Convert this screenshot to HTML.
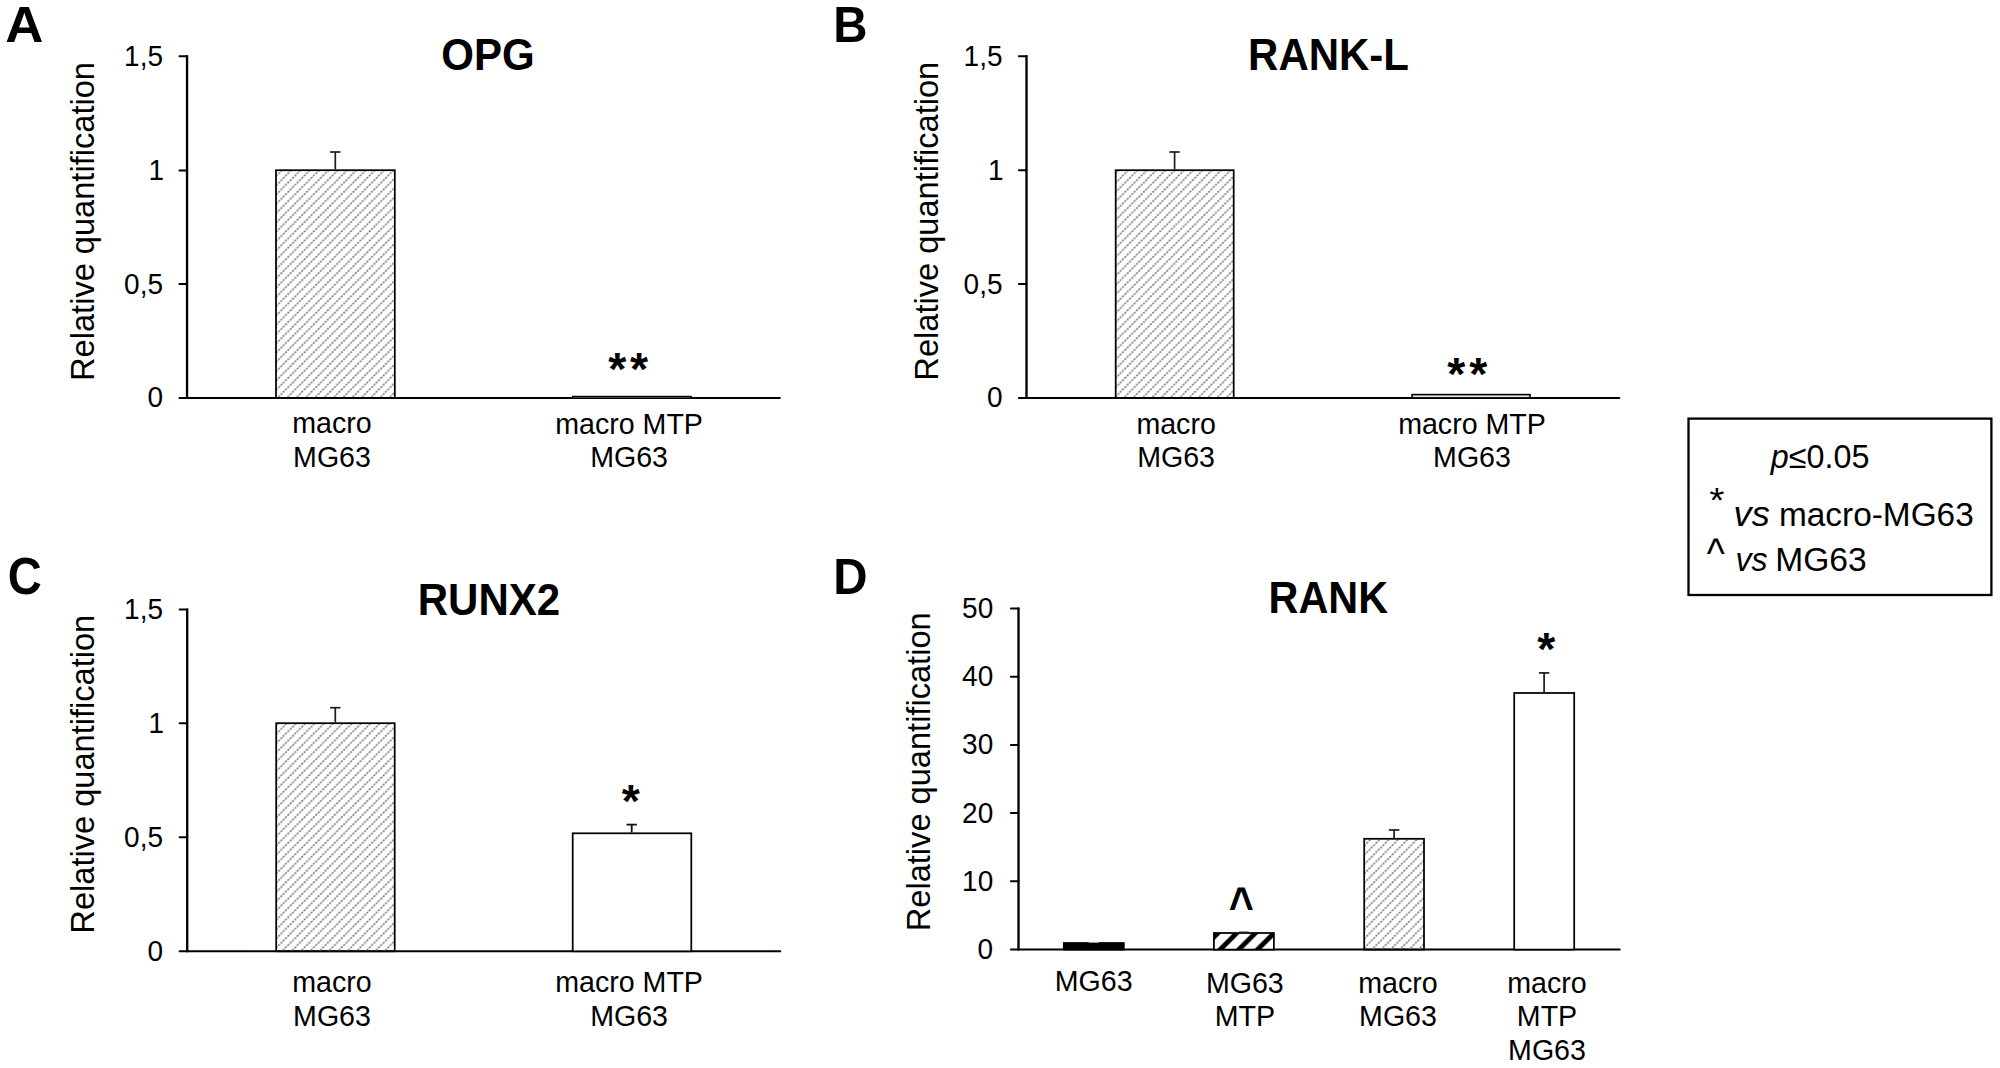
<!DOCTYPE html>
<html lang="en"><head><meta charset="utf-8"><title>Figure</title>
<style>html,body{margin:0;padding:0;background:#fff;}body{width:2000px;height:1068px;overflow:hidden;}svg{display:block;}text{font-family:"Liberation Sans", Arial, Helvetica, sans-serif;fill:#000;}</style></head><body>
<svg width="2000" height="1068" viewBox="0 0 2000 1068">
<defs>
<pattern id="hg" patternUnits="userSpaceOnUse" width="9.3" height="9.3" patternTransform="translate(277.86,165.01)"><path d="M-1,10.3 L10.3,-1" stroke="#cccccc" stroke-width="1.05" fill="none"/><g fill="#7d7d7d"><circle cx="1.16" cy="8.14" r="1.0"/><circle cx="3.49" cy="5.81" r="1.0"/><circle cx="5.81" cy="3.49" r="1.0"/><circle cx="8.14" cy="1.16" r="1.0"/></g></pattern>
<pattern id="hb" patternUnits="userSpaceOnUse" width="18.7" height="18.7" patternTransform="translate(0.5,0)"><rect width="18.7" height="18.7" fill="#fff"/><path d="M-9.35,9.35 L9.35,-9.35 M-4,22.7 L22.7,-4 M9.35,28.05 L28.05,9.35" stroke="#000" stroke-width="4.8" fill="none"/></pattern>
</defs>
<rect width="2000" height="1068" fill="#fff"/>
<text transform="translate(24.45,41.8) scale(1.058,1.012)" font-size="50" text-anchor="middle" font-weight="bold" font-style="normal">A</text>
<text transform="translate(833.3,41.85) scale(0.95,1.012)" font-size="50" text-anchor="start" font-weight="bold" font-style="normal">B</text>
<text transform="translate(7.8,593.6) scale(0.944,1.03)" font-size="50" text-anchor="start" font-weight="bold" font-style="normal">C</text>
<text transform="translate(833.3,593.8) scale(0.95,1.012)" font-size="50" text-anchor="start" font-weight="bold" font-style="normal">D</text>
<line x1="187.05" y1="55.2" x2="187.05" y2="398.9" stroke="#000" stroke-width="2.35" stroke-linecap="butt"/>
<line x1="179.45" y1="397.9" x2="779.8" y2="397.9" stroke="#000" stroke-width="2" stroke-linecap="round"/>
<line x1="179.45" y1="56.2" x2="187.05" y2="56.2" stroke="#000" stroke-width="2" stroke-linecap="round"/>
<line x1="179.45" y1="170.4" x2="187.05" y2="170.4" stroke="#000" stroke-width="2" stroke-linecap="round"/>
<line x1="179.45" y1="284.1" x2="187.05" y2="284.1" stroke="#000" stroke-width="2" stroke-linecap="round"/>
<text transform="translate(163,65.7) scale(1,1.04)" font-size="28" text-anchor="end" font-weight="normal" font-style="normal">1,5</text>
<text transform="translate(164.1,179.9) scale(1,1.04)" font-size="28" text-anchor="end" font-weight="normal" font-style="normal">1</text>
<text transform="translate(163,293.6) scale(1,1.04)" font-size="28" text-anchor="end" font-weight="normal" font-style="normal">0,5</text>
<text transform="translate(163,407.4) scale(1,1.04)" font-size="28" text-anchor="end" font-weight="normal" font-style="normal">0</text>
<text transform="translate(94.0,221.5) rotate(-90) scale(1,1.04)" font-size="32.6" text-anchor="middle">Relative quantification</text>
<text transform="translate(488,70) scale(1,1.04)" font-size="42" text-anchor="middle" font-weight="bold" font-style="normal">OPG</text>
<rect x="276" y="170.2" width="118.8" height="227.7" fill="url(#hg)" stroke="#000" stroke-width="1.75"/>
<line x1="335.3" y1="152" x2="335.3" y2="169.5" stroke="#1c1c1c" stroke-width="1.7" stroke-linecap="butt"/>
<line x1="330.1" y1="152" x2="340.5" y2="152" stroke="#1c1c1c" stroke-width="1.7" stroke-linecap="butt"/>
<rect x="572.6" y="396.4" width="118.6" height="1.5" fill="#fff" stroke="#000" stroke-width="1.2"/>
<text transform="translate(617.2,384.68) scale(1,1.0)" font-size="46.4" text-anchor="middle" font-weight="bold" font-style="normal">*</text>
<text transform="translate(639.1,384.68) scale(1,1.0)" font-size="46.4" text-anchor="middle" font-weight="bold" font-style="normal">*</text>
<text transform="translate(332,433.4) scale(1,1.04)" font-size="28.6" text-anchor="middle" font-weight="normal" font-style="normal">macro</text>
<text transform="translate(332,466.9) scale(1,1.04)" font-size="28.6" text-anchor="middle" font-weight="normal" font-style="normal">MG63</text>
<text transform="translate(629.1,433.7) scale(1,1.04)" font-size="28.6" text-anchor="middle" font-weight="normal" font-style="normal">macro MTP</text>
<text transform="translate(629.1,467) scale(1,1.04)" font-size="28.6" text-anchor="middle" font-weight="normal" font-style="normal">MG63</text>
<line x1="1026.5" y1="55.2" x2="1026.5" y2="398.9" stroke="#000" stroke-width="2.35" stroke-linecap="butt"/>
<line x1="1018.9000000000001" y1="397.9" x2="1619.4" y2="397.9" stroke="#000" stroke-width="2" stroke-linecap="round"/>
<line x1="1018.9000000000001" y1="56.2" x2="1026.5" y2="56.2" stroke="#000" stroke-width="2" stroke-linecap="round"/>
<line x1="1018.9000000000001" y1="170.3" x2="1026.5" y2="170.3" stroke="#000" stroke-width="2" stroke-linecap="round"/>
<line x1="1018.9000000000001" y1="284.1" x2="1026.5" y2="284.1" stroke="#000" stroke-width="2" stroke-linecap="round"/>
<text transform="translate(1002.5,65.7) scale(1,1.04)" font-size="28" text-anchor="end" font-weight="normal" font-style="normal">1,5</text>
<text transform="translate(1003.6,179.8) scale(1,1.04)" font-size="28" text-anchor="end" font-weight="normal" font-style="normal">1</text>
<text transform="translate(1002.5,293.6) scale(1,1.04)" font-size="28" text-anchor="end" font-weight="normal" font-style="normal">0,5</text>
<text transform="translate(1002.5,407.4) scale(1,1.04)" font-size="28" text-anchor="end" font-weight="normal" font-style="normal">0</text>
<text transform="translate(938.2,221.2) rotate(-90) scale(1,1.04)" font-size="32.6" text-anchor="middle">Relative quantification</text>
<text transform="translate(1328.5,70) scale(1,1.04)" font-size="42" text-anchor="middle" font-weight="bold" font-style="normal">RANK-L</text>
<rect x="1115.7" y="170.2" width="118" height="227.7" fill="url(#hg)" stroke="#000" stroke-width="1.75"/>
<line x1="1174.6" y1="152" x2="1174.6" y2="169.5" stroke="#1c1c1c" stroke-width="1.7" stroke-linecap="butt"/>
<line x1="1169.3999999999999" y1="152" x2="1179.8" y2="152" stroke="#1c1c1c" stroke-width="1.7" stroke-linecap="butt"/>
<rect x="1412" y="394.6" width="118" height="3.3" fill="#ececec" stroke="#000" stroke-width="1.6"/>
<text transform="translate(1456.4,390.38) scale(1,1.0)" font-size="46.4" text-anchor="middle" font-weight="bold" font-style="normal">*</text>
<text transform="translate(1478.3,390.38) scale(1,1.0)" font-size="46.4" text-anchor="middle" font-weight="bold" font-style="normal">*</text>
<text transform="translate(1176.1,434) scale(1,1.04)" font-size="28.6" text-anchor="middle" font-weight="normal" font-style="normal">macro</text>
<text transform="translate(1176.1,467.4) scale(1,1.04)" font-size="28.6" text-anchor="middle" font-weight="normal" font-style="normal">MG63</text>
<text transform="translate(1472,434) scale(1,1.04)" font-size="28.6" text-anchor="middle" font-weight="normal" font-style="normal">macro MTP</text>
<text transform="translate(1472,467.4) scale(1,1.04)" font-size="28.6" text-anchor="middle" font-weight="normal" font-style="normal">MG63</text>
<line x1="187.2" y1="608.6" x2="187.2" y2="952.3" stroke="#000" stroke-width="2.35" stroke-linecap="butt"/>
<line x1="179.59999999999997" y1="951.3" x2="780.3" y2="951.3" stroke="#000" stroke-width="2" stroke-linecap="round"/>
<line x1="179.59999999999997" y1="609.6" x2="187.2" y2="609.6" stroke="#000" stroke-width="2" stroke-linecap="round"/>
<line x1="179.59999999999997" y1="723.3" x2="187.2" y2="723.3" stroke="#000" stroke-width="2" stroke-linecap="round"/>
<line x1="179.59999999999997" y1="837.3" x2="187.2" y2="837.3" stroke="#000" stroke-width="2" stroke-linecap="round"/>
<text transform="translate(163,619.1) scale(1,1.04)" font-size="28" text-anchor="end" font-weight="normal" font-style="normal">1,5</text>
<text transform="translate(164.1,732.8) scale(1,1.04)" font-size="28" text-anchor="end" font-weight="normal" font-style="normal">1</text>
<text transform="translate(163,846.8) scale(1,1.04)" font-size="28" text-anchor="end" font-weight="normal" font-style="normal">0,5</text>
<text transform="translate(163,960.8) scale(1,1.04)" font-size="28" text-anchor="end" font-weight="normal" font-style="normal">0</text>
<text transform="translate(94.0,774.2) rotate(-90) scale(1,1.04)" font-size="32.6" text-anchor="middle">Relative quantification</text>
<text transform="translate(488.9,614.7) scale(1,1.04)" font-size="42" text-anchor="middle" font-weight="bold" font-style="normal">RUNX2</text>
<rect x="276.2" y="723.2" width="118.5" height="228.1" fill="url(#hg)" stroke="#000" stroke-width="1.75"/>
<line x1="335.3" y1="707.7" x2="335.3" y2="722.5" stroke="#1c1c1c" stroke-width="1.7" stroke-linecap="butt"/>
<line x1="330.1" y1="707.7" x2="340.5" y2="707.7" stroke="#1c1c1c" stroke-width="1.7" stroke-linecap="butt"/>
<rect x="572.7" y="833.3" width="118.6" height="118.0" fill="#fff" stroke="#000" stroke-width="1.75"/>
<line x1="631.7" y1="824.6" x2="631.7" y2="832.5" stroke="#111" stroke-width="1.8" stroke-linecap="butt"/>
<line x1="626.5" y1="824.6" x2="636.9000000000001" y2="824.6" stroke="#111" stroke-width="1.8" stroke-linecap="butt"/>
<text transform="translate(630.8,817.38) scale(1,1.0)" font-size="46.4" text-anchor="middle" font-weight="bold" font-style="normal">*</text>
<text transform="translate(332,992.3) scale(1,1.04)" font-size="28.6" text-anchor="middle" font-weight="normal" font-style="normal">macro</text>
<text transform="translate(332,1025.6) scale(1,1.04)" font-size="28.6" text-anchor="middle" font-weight="normal" font-style="normal">MG63</text>
<text transform="translate(629.1,992.3) scale(1,1.04)" font-size="28.6" text-anchor="middle" font-weight="normal" font-style="normal">macro MTP</text>
<text transform="translate(629.1,1025.6) scale(1,1.04)" font-size="28.6" text-anchor="middle" font-weight="normal" font-style="normal">MG63</text>
<line x1="1018.5" y1="607.4" x2="1018.5" y2="950.6" stroke="#000" stroke-width="2.35" stroke-linecap="butt"/>
<line x1="1010.9000000000001" y1="949.6" x2="1619.7" y2="949.6" stroke="#000" stroke-width="2" stroke-linecap="round"/>
<line x1="1010.9000000000001" y1="608.4" x2="1018.5" y2="608.4" stroke="#000" stroke-width="2" stroke-linecap="round"/>
<line x1="1010.9000000000001" y1="676.64" x2="1018.5" y2="676.64" stroke="#000" stroke-width="2" stroke-linecap="round"/>
<line x1="1010.9000000000001" y1="744.88" x2="1018.5" y2="744.88" stroke="#000" stroke-width="2" stroke-linecap="round"/>
<line x1="1010.9000000000001" y1="813.12" x2="1018.5" y2="813.12" stroke="#000" stroke-width="2" stroke-linecap="round"/>
<line x1="1010.9000000000001" y1="881.36" x2="1018.5" y2="881.36" stroke="#000" stroke-width="2" stroke-linecap="round"/>
<text transform="translate(993.2,617.9) scale(1,1.04)" font-size="28" text-anchor="end" font-weight="normal" font-style="normal">50</text>
<text transform="translate(993.2,686.14) scale(1,1.04)" font-size="28" text-anchor="end" font-weight="normal" font-style="normal">40</text>
<text transform="translate(993.2,754.38) scale(1,1.04)" font-size="28" text-anchor="end" font-weight="normal" font-style="normal">30</text>
<text transform="translate(993.2,822.62) scale(1,1.04)" font-size="28" text-anchor="end" font-weight="normal" font-style="normal">20</text>
<text transform="translate(993.2,890.86) scale(1,1.04)" font-size="28" text-anchor="end" font-weight="normal" font-style="normal">10</text>
<text transform="translate(993.2,959.1) scale(1,1.04)" font-size="28" text-anchor="end" font-weight="normal" font-style="normal">0</text>
<text transform="translate(930.4,771.8) rotate(-90) scale(1,1.04)" font-size="32.6" text-anchor="middle">Relative quantification</text>
<text transform="translate(1328.3,613) scale(0.985,1.04)" font-size="42" text-anchor="middle" font-weight="bold" font-style="normal">RANK</text>
<rect x="1063.8" y="943.0" width="60" height="6.6" fill="#000" stroke="#000" stroke-width="1.75"/>
<line x1="1088.7" y1="942.4" x2="1098.8" y2="942.4" stroke="#a8a8a8" stroke-width="1.1" stroke-linecap="butt"/>
<rect x="1213.9" y="933.0" width="60" height="16.6" fill="url(#hb)" stroke="#000" stroke-width="1.75"/>
<line x1="1239.2" y1="931.5" x2="1248.6" y2="931.5" stroke="#888" stroke-width="0.9" stroke-linecap="butt"/>
<rect x="1364.2" y="838.8" width="59.8" height="110.8" fill="url(#hg)" stroke="#000" stroke-width="1.75"/>
<line x1="1394.1" y1="830" x2="1394.1" y2="838" stroke="#1c1c1c" stroke-width="1.7" stroke-linecap="butt"/>
<line x1="1388.8999999999999" y1="830" x2="1399.3" y2="830" stroke="#1c1c1c" stroke-width="1.7" stroke-linecap="butt"/>
<rect x="1514.2" y="693" width="60" height="256.6" fill="#fff" stroke="#000" stroke-width="1.75"/>
<line x1="1544.1" y1="672.9" x2="1544.1" y2="692.3" stroke="#1c1c1c" stroke-width="1.7" stroke-linecap="butt"/>
<line x1="1538.8999999999999" y1="672.9" x2="1549.3" y2="672.9" stroke="#1c1c1c" stroke-width="1.7" stroke-linecap="butt"/>
<text transform="translate(1546.2,665.08) scale(1,1.0)" font-size="46.4" text-anchor="middle" font-weight="bold" font-style="normal">*</text>
<text transform="translate(1241.3,922.64) scale(1,1.2)" font-size="42.9" text-anchor="middle" font-weight="bold" font-style="normal">^</text>
<text transform="translate(1093.7,991.3) scale(1,1.04)" font-size="28.6" text-anchor="middle" font-weight="normal" font-style="normal">MG63</text>
<text transform="translate(1244.8,992.7) scale(1,1.04)" font-size="28.6" text-anchor="middle" font-weight="normal" font-style="normal">MG63</text>
<text transform="translate(1244.8,1026.3) scale(1,1.04)" font-size="28.6" text-anchor="middle" font-weight="normal" font-style="normal">MTP</text>
<text transform="translate(1398,993) scale(1,1.04)" font-size="28.6" text-anchor="middle" font-weight="normal" font-style="normal">macro</text>
<text transform="translate(1398,1026.4) scale(1,1.04)" font-size="28.6" text-anchor="middle" font-weight="normal" font-style="normal">MG63</text>
<text transform="translate(1547,993) scale(1,1.04)" font-size="28.6" text-anchor="middle" font-weight="normal" font-style="normal">macro</text>
<text transform="translate(1547,1026.4) scale(1,1.04)" font-size="28.6" text-anchor="middle" font-weight="normal" font-style="normal">MTP</text>
<text transform="translate(1547,1060) scale(1,1.04)" font-size="28.6" text-anchor="middle" font-weight="normal" font-style="normal">MG63</text>
<rect x="1688.5" y="418.6" width="302.9" height="176.4" fill="none" stroke="#000" stroke-width="2.3"/>
<text transform="translate(1770.8,468.3)" font-size="32.3"><tspan font-style="italic">p</tspan>≤0.05</text>
<text transform="translate(1716.7,512.3) scale(1,0.914)" font-size="38.9" text-anchor="middle" font-weight="normal" font-style="normal">*</text>
<text transform="translate(1733.6,525.7) scale(1,0.973)" font-size="36.2" text-anchor="start" font-weight="normal" font-style="italic">vs</text>
<text transform="translate(1779.0,525.7) scale(1,1.01)" font-size="33.4" text-anchor="start" font-weight="normal" font-style="normal">macro-MG63</text>
<text transform="translate(1715.7,567.95) scale(1,1.116)" font-size="38.5" text-anchor="middle" font-weight="normal" font-style="normal">^</text>
<text transform="translate(1735.4,570.7) scale(1,1.04)" font-size="32.1" text-anchor="start" font-weight="normal" font-style="italic">vs</text>
<text transform="translate(1775.2,570.7) scale(1,1.0)" font-size="33.6" text-anchor="start" font-weight="normal" font-style="normal">MG63</text>
</svg></body></html>
